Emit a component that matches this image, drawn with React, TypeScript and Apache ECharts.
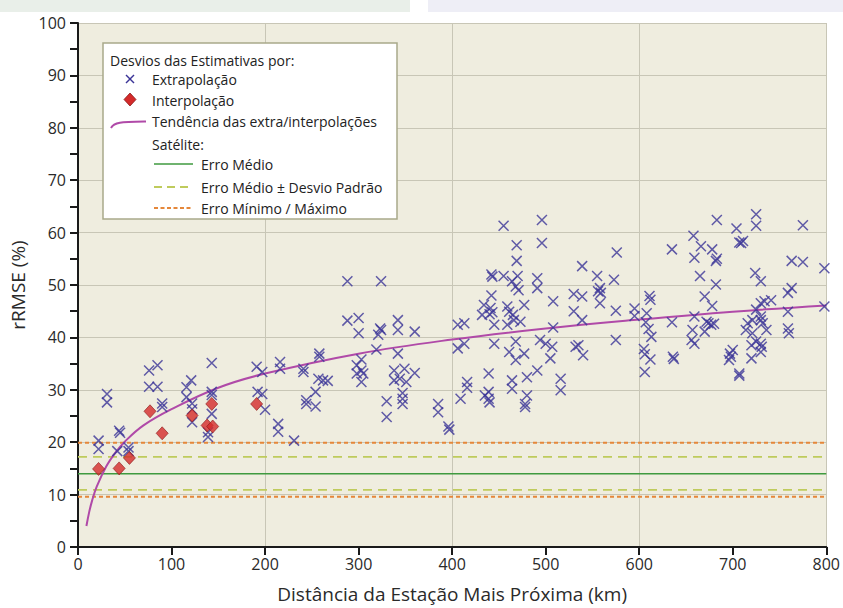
import React, { useEffect, useRef } from "react";
import * as echarts from "echarts";

// Distância (km), rRMSE (%)
const extrapolacao: number[][] = [
  [22, 20.3], [22, 18.7], [31, 29.2], [31, 27.6], [44, 22.2], [45, 21.8], [42, 18.3], [54, 19.0], [54, 18.3],
  [76, 33.7], [85, 34.7], [76, 30.6], [85, 30.6], [90, 27.4], [90, 26.7],
  [116, 30.5], [121, 31.8], [116, 28.6], [122, 27.4], [122, 26.3], [122, 23.8], [143, 35.1], [143, 29.6],
  [143, 29.0], [143, 25.4], [139, 21.9], [139, 21.0], [191, 34.4], [197, 33.4], [192, 29.6], [197, 29.2], [200, 26.2],
  [214, 23.5], [214, 22.0], [231, 20.3], [216, 35.3], [216, 34.0], [241, 34.0], [241, 33.4], [244, 28.0], [244, 27.3],
  [258, 36.9], [258, 36.3], [257, 32.1], [262, 31.8], [267, 31.7], [254, 29.6], [254, 26.8],
  [288, 50.7], [324, 50.7], [288, 43.2], [300, 43.7], [300, 40.8], [323, 41.7], [324, 41.4], [321, 40.5], [319, 37.7],
  [342, 43.3], [342, 41.4], [360, 41.1], [342, 36.9], [303, 35.8], [298, 34.7], [303, 33.7], [298, 33.1], [305, 33.1],
  [303, 31.5], [338, 33.7], [349, 34.0], [360, 33.2], [338, 31.8], [344, 32.1], [351, 31.5], [330, 27.8], [330, 24.8],
  [347, 29.4], [347, 28.3], [347, 27.3], [385, 27.3], [385, 25.7], [396, 23.0], [397, 22.4],
  [406, 42.4], [413, 42.7], [406, 37.9], [413, 38.8], [416, 31.5], [416, 30.4], [409, 28.3],
  [455, 61.3], [496, 62.4], [496, 58.0], [469, 57.6], [469, 54.6],
  [442, 52.0], [443, 51.6], [455, 51.7], [470, 51.7], [464, 50.7], [468, 49.7], [471, 49.0], [491, 51.3], [491, 49.4],
  [442, 48.0], [434, 46.2], [441, 45.6], [432, 44.3], [443, 44.8], [445, 42.4], [440, 44.4],
  [459, 45.9], [461, 44.9], [465, 44.3], [459, 42.4], [466, 43.3], [473, 43.0], [477, 46.2],
  [445, 38.8], [461, 37.2], [468, 39.2], [477, 36.9], [468, 35.7],
  [494, 39.5], [500, 38.8], [507, 38.2], [505, 36.0], [508, 46.9], [508, 41.9],
  [439, 33.1], [439, 29.6], [439, 28.3], [440, 27.6], [435, 28.9],
  [464, 31.8], [464, 30.2], [480, 32.4], [480, 28.9], [478, 27.3], [478, 26.7], [491, 33.7], [516, 32.1], [516, 29.9],
  [530, 48.3], [530, 45.0], [532, 38.2],
  [576, 56.2], [539, 53.6], [555, 51.7], [573, 51.0], [558, 49.4], [556, 48.8], [559, 48.5], [558, 46.5],
  [539, 47.8], [539, 43.3], [575, 45.1], [575, 39.5], [535, 38.5], [540, 36.6],
  [595, 45.5], [595, 44.1], [608, 44.6], [607, 42.9], [610, 41.6], [613, 40.1], [611, 47.9], [612, 47.2],
  [605, 37.8], [606, 36.8], [612, 35.8], [606, 33.4],
  [635, 56.8], [635, 42.9], [636, 36.3], [637, 35.9],
  [658, 59.4], [666, 57.4], [659, 55.2], [665, 51.7], [659, 44.0], [657, 41.4], [656, 39.5], [659, 38.8],
  [678, 56.8], [682, 54.6], [683, 55.0], [683, 62.4], [682, 50.1], [670, 47.8], [678, 46.0],
  [672, 43.0], [677, 42.4], [680, 42.6], [670, 41.1], [674, 42.7],
  [697, 36.9], [700, 37.6], [698, 36.3], [696, 35.7], [707, 33.1], [707, 32.7],
  [704, 60.8], [707, 58.1], [711, 58.4], [709, 58.0],
  [725, 63.5], [725, 61.3], [775, 61.4], [724, 52.3], [730, 50.7], [763, 54.6], [775, 54.4], [798, 53.2],
  [759, 48.5], [763, 49.4], [798, 45.9],
  [725, 45.3], [730, 46.5], [734, 46.9], [741, 47.1], [730, 44.0], [730, 43.3], [732, 42.7],
  [759, 44.9], [759, 41.7], [760, 40.8],
  [716, 42.7], [721, 43.3], [714, 41.4], [721, 40.8], [736, 41.4],
  [720, 38.5], [725, 39.2], [730, 38.8], [730, 37.2], [720, 36.0], [731, 38.2],
];

const interpolacao: number[][] = [
  [22, 14.9], [44, 15.0], [55, 17.0], [77, 25.9], [90, 21.7],
  [122, 25.1], [143, 27.3], [138, 23.2], [144, 23.0], [191, 27.3],
];

const tendenciaX = [9, 12, 15, 20, 30, 40, 50, 70, 100, 150, 200, 300, 400, 500, 600, 700, 800];
const tendenciaY = [4.0, 6.7, 8.8, 11.5, 15.3, 18.0, 20.1, 23.2, 26.3, 30.4, 33.1, 36.9, 39.6, 41.7, 43.4, 44.9, 46.1];

const erroMedio = 14.0;
const erroMedioMaisDP = 17.2;
const erroMedioMenosDP = 10.9;
const erroMinimo = 9.6;
const erroMaximo = 19.9;

const xTicks = { min: 0, max: 800, step: 100 };
const yTicks = { min: 0, max: 100, step: 10 };

const FONT = "'Open Sans', 'Noto Sans', sans-serif";
const AXIS = "#1a1a1a";
const GRIDLINE = "#c8c6b6";
const ORANGE = "#e5873a";
const YELLOW = "#bfcb5c";
const GREEN = "#3f9a3f";

function hLine(name: string, v: number, color: string, type: any, width: number) {
  return {
    name,
    type: "line",
    xAxisIndex: 0,
    data: [[xTicks.min, v], [xTicks.max, v]],
    symbol: "none",
    silent: true,
    z: 3,
    lineStyle: { color, width, type },
  };
}

export default function App() {
  const ref = useRef<HTMLDivElement>(null);

  useEffect(() => {
    if (!ref.current) return;
    const chart = echarts.init(ref.current, null, { renderer: "svg" });

    const legendText = (text: string, x: number, y: number) => ({
      type: "text",
      x,
      y,
      z: 101,
      style: { text, fill: "#222", font: `14px ${FONT}`, verticalAlign: "middle", align: "left" },
    });

    const option: any = {
      animation: false,
      textStyle: { fontFamily: FONT },
      grid: {
        left: 78,
        right: 13,
        top: 23,
        bottom: 60,
        show: true,
        backgroundColor: "#efeddf",
        borderWidth: 0,
      },
      xAxis: [
        {
          type: "value",
          min: xTicks.min,
          max: xTicks.max,
          interval: xTicks.step,
          name: "Distância da Estação Mais Próxima (km)",
          nameLocation: "middle",
          nameGap: 37,
          nameTextStyle: { fontSize: 19, color: "#2a2a2a", fontFamily: FONT },
          axisLine: { show: true, onZero: false, lineStyle: { color: AXIS, width: 2 } },
          axisTick: { show: true, length: 8, lineStyle: { color: AXIS, width: 2 } },
          axisLabel: { fontSize: 16, color: "#2a2a2a", margin: 9, fontFamily: FONT },
          splitLine: { show: false },
        },
        {
          type: "value",
          min: xTicks.min,
          max: xTicks.max,
          interval: 200,
          position: "bottom",
          axisLine: { show: false },
          axisTick: { show: false },
          axisLabel: { show: false },
          splitLine: { show: true, lineStyle: { color: GRIDLINE, width: 1 } },
        },
      ],
      yAxis: {
        type: "value",
        min: yTicks.min,
        max: yTicks.max,
        interval: yTicks.step,
        name: "rRMSE (%)",
        nameLocation: "middle",
        nameGap: 42,
        nameTextStyle: { fontSize: 19, color: "#2a2a2a", fontFamily: FONT },
        axisLine: { show: true, onZero: false, lineStyle: { color: AXIS, width: 2 } },
        axisTick: { show: true, length: 8, lineStyle: { color: AXIS, width: 2 } },
        minorTick: { show: true, splitNumber: 2, length: 8, lineStyle: { color: AXIS, width: 2 } },
        axisLabel: { fontSize: 16, color: "#2a2a2a", margin: 12, fontFamily: FONT },
        splitLine: { show: true, lineStyle: { color: GRIDLINE, width: 1 } },
      },
      series: [
        hLine("Erro Máximo", erroMaximo, ORANGE, [4, 3], 2),
        hLine("Erro Médio + DP", erroMedioMaisDP, YELLOW, [9, 6], 1.8),
        hLine("Erro Médio", erroMedio, GREEN, "solid", 1.5),
        hLine("Erro Médio - DP", erroMedioMenosDP, YELLOW, [9, 6], 1.8),
        hLine("Erro Mínimo", erroMinimo, ORANGE, [4, 3], 2),
        {
          name: "Tendência",
          type: "line",
          data: tendenciaX.map((x, i) => [x, tendenciaY[i]]),
          smooth: 0.4,
          symbol: "none",
          silent: true,
          z: 3,
          lineStyle: { color: "#b04aa8", width: 2 },
        },
        {
          name: "Extrapolação",
          type: "scatter",
          data: extrapolacao,
          symbol: "path://M0,0L10,10M10,0L0,10",
          symbolSize: 10,
          z: 4,
          itemStyle: { color: "rgba(0,0,0,0)", borderColor: "#3b3497", borderWidth: 1.5 },
        },
        {
          name: "Interpolação",
          type: "scatter",
          data: interpolacao,
          symbol: "diamond",
          symbolSize: [12, 13],
          z: 6,
          itemStyle: { color: "#d42a2a", borderColor: "#8a1c1c", borderWidth: 0.8 },
        },
      ],
      graphic: [
        { type: "rect", z: 0, shape: { x: 0, y: 0, width: 410, height: 12 }, style: { fill: "#e9efe9" } },
        { type: "rect", z: 0, shape: { x: 428, y: 0, width: 415, height: 12 }, style: { fill: "#eeeef6" } },
        {
          type: "rect",
          z: 100,
          shape: { x: 103, y: 43, width: 294, height: 176 },
          style: { fill: "#ffffff", stroke: "#a9a98a", lineWidth: 1.5 },
        },
        legendText("Desvios das Estimativas por:", 110, 60),
        { type: "line", z: 101, shape: { x1: 126, y1: 75, x2: 134, y2: 83 }, style: { stroke: "#3b3497", lineWidth: 1.5 } },
        { type: "line", z: 101, shape: { x1: 134, y1: 75, x2: 126, y2: 83 }, style: { stroke: "#3b3497", lineWidth: 1.5 } },
        legendText("Extrapolação", 152, 79),
        {
          type: "polygon",
          z: 101,
          shape: { points: [[130, 93], [136, 99.5], [130, 106], [124, 99.5]] },
          style: { fill: "#d42a2a", stroke: "#8a1c1c", lineWidth: 0.8 },
        },
        legendText("Interpolação", 152, 100),
        {
          type: "bezierCurve",
          z: 101,
          shape: { x1: 111, y1: 128, cpx1: 114, cpy1: 122, cpx2: 121, cpy2: 122, x2: 146, y2: 121.5 },
          style: { stroke: "#b04aa8", lineWidth: 2, fill: "none" },
        },
        legendText("Tendência das extra/interpolações", 152, 121),
        legendText("Satélite:", 152, 144),
        { type: "line", z: 101, shape: { x1: 154, y1: 164, x2: 193, y2: 164 }, style: { stroke: GREEN, lineWidth: 1.5 } },
        legendText("Erro Médio", 201, 164),
        {
          type: "line",
          z: 101,
          shape: { x1: 154, y1: 187, x2: 193, y2: 187 },
          style: { stroke: YELLOW, lineWidth: 1.8, lineDash: [8, 5] },
        },
        legendText("Erro Médio ± Desvio Padrão", 201, 187),
        {
          type: "line",
          z: 101,
          shape: { x1: 154, y1: 208, x2: 193, y2: 208 },
          style: { stroke: ORANGE, lineWidth: 1.8, lineDash: [4, 2.5] },
        },
        legendText("Erro Mínimo / Máximo", 201, 208),
      ],
    };

    chart.setOption(option);
    return () => chart.dispose();
  }, []);

  return (
    <div
      ref={ref}
      style={{ position: "fixed", left: 0, top: 0, width: 843, height: 608, background: "#ffffff" }}
    />
  );
}
